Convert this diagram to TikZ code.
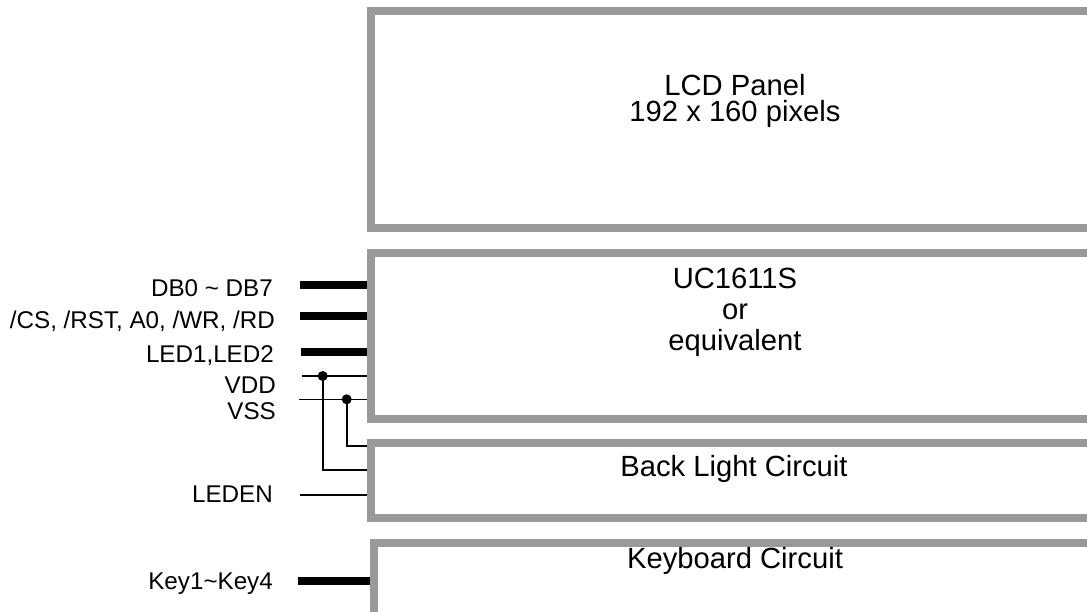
\documentclass[tikz,border=0pt]{standalone}
\usepackage{fontspec}
\setmainfont{Liberation Sans}
\definecolor{framegray}{HTML}{999999}

\begin{document}
\begin{tikzpicture}[x=1pt,y=-1pt,
    blockframe/.style={draw=framegray, line width=8pt, inner sep=0pt, outer sep=0pt, anchor=north west},
    blocktext/.style={font=\fontsize{29.2}{25.5}\selectfont, align=center, inner sep=0pt},
    sig/.style={font=\fontsize{24.2}{28}\selectfont, anchor=base east, inner sep=0pt},
    bus/.style={line width=7pt, shorten >=4pt},
    wire/.style={line width=1.6pt, shorten >=4pt},
    joint/.style={circle, fill, inner sep=0pt, minimum size=10pt}]
    \useasboundingbox (0,0) rectangle (1087,611);
    \clip (0,0) rectangle (1087,611);

    % Blocks
    \node[blockframe, minimum width=800pt, minimum height=216.5pt] (lcd) at (371,11) {};
    \node[blockframe, minimum width=800pt, minimum height=166pt] (uc) at (371,253) {};
    \node[blockframe, minimum width=800pt, minimum height=75pt] (bl) at (371,443) {};
    \node[blockframe, minimum width=800pt, minimum height=200pt] (kb) at (374,543) {};

    \node[blocktext] (lcdtext) at (735,101) {LCD Panel\\192 x 160 pixels};
    \node[blocktext, font=\fontsize{29.2}{31}\selectfont] (uctext) at (735,312) {UC1611S\\or\\equivalent};
    \node[blocktext, anchor=base] (bltext) at (734,476.7) {Back Light Circuit};
    \node[blocktext, anchor=base] (kbtext) at (735,568) {Keyboard Circuit};

    % Signal names
    \node[sig] (db) at (273,296) {DB0 \textasciitilde{} DB7};
    \node[sig] (ctl) at (275,328.5) {/CS, /RST, A0, /WR, /RD};
    \node[sig] (led) at (274,362) {LED1,LED2};
    \node[sig] (vdd) at (276,393) {VDD};
    \node[sig] (vss) at (276,419.5) {VSS};
    \node[sig] (leden) at (273,502) {LEDEN};
    \node[sig] (key) at (273,589) {Key1\textasciitilde Key4};

    \coordinate (dbS) at (300,284.7);
    \coordinate (ctlS) at (300,316.3);
    \coordinate (ledS) at (301,351.5);
    \coordinate (vddS) at (301.7,376);
    \coordinate (vssS) at (299,399.3);
    \coordinate (ledenS) at (300,494.7);
    \coordinate (keyS) at (298,580.7);
    \coordinate (blvss) at (371,446);
    \coordinate (blvdd) at (371,470);

    \node[joint] (vddJ) at (322.7,376) {};
    \node[joint] (vssJ) at (346.7,399.3) {};

    \path
    (dbS) [bus] edge (dbS -| uc.west)
    (ctlS) [bus] edge (ctlS -| uc.west)
    (ledS) [bus] edge (ledS -| uc.west)
    (keyS) [bus, line width=8pt] edge (keyS -| kb.west);

    \path
    (vddS) [wire] edge (vddS -| uc.west)
    (vssS) [wire] edge (vssS -| uc.west)
    (ledenS) [wire] edge (ledenS -| bl.west)
    (vddJ.center) [wire] edge [to path={|- (\tikztotarget)}] (blvdd)
    (vssJ.center) [wire] edge [to path={|- (\tikztotarget)}] (blvss);
\end{tikzpicture}
\end{document}
